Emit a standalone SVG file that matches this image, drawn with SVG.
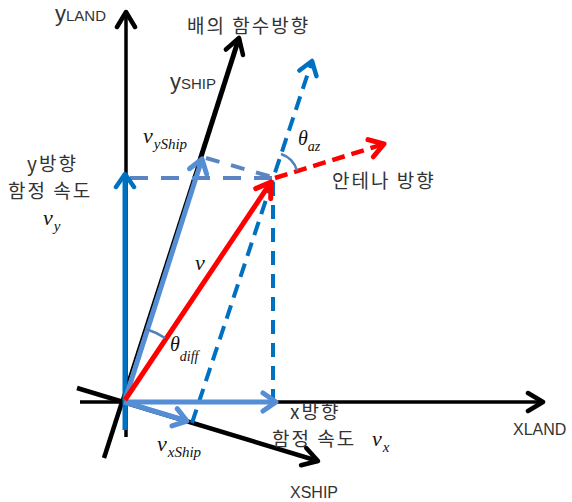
<svg xmlns="http://www.w3.org/2000/svg" width="572" height="502" viewBox="0 0 572 502">
<style>
.lbl{font-family:"Noto Sans CJK KR","Liberation Sans",sans-serif;font-size:19px;fill:#333;letter-spacing:2px}
.ax{font-family:"Liberation Sans","Noto Sans CJK KR",sans-serif;fill:#333}
.m{font-family:"Liberation Serif","DejaVu Serif",serif;font-style:italic;fill:#111}
.k{stroke:#000;fill:none}
.b{stroke:#0070C0;fill:none}
.lb{stroke:#558ED5;fill:none}
.mb{stroke:#5B84C2;fill:none}
.r{stroke:#FF0000;fill:none}
</style>
<defs>
<marker id="ak" markerUnits="userSpaceOnUse" viewBox="-20 -12 24 24" markerWidth="24" markerHeight="24" refX="0" refY="0" orient="auto"><path d="M-15,-9 L0,0 L-15,9" fill="none" stroke="#000" stroke-width="4.5" stroke-linecap="round" stroke-linejoin="round"/></marker>
<marker id="ab" markerUnits="userSpaceOnUse" viewBox="-20 -12 24 24" markerWidth="24" markerHeight="24" refX="0" refY="0" orient="auto"><path d="M-13,-9 L0,0 L-13,9" fill="none" stroke="#0070C0" stroke-width="4.5" stroke-linecap="round" stroke-linejoin="round"/></marker>
<marker id="alb" markerUnits="userSpaceOnUse" viewBox="-20 -12 24 24" markerWidth="24" markerHeight="24" refX="0" refY="0" orient="auto"><path d="M-13,-9 L0,0 L-13,9" fill="none" stroke="#558ED5" stroke-width="5" stroke-linecap="round" stroke-linejoin="round"/></marker>
<marker id="ar" markerUnits="userSpaceOnUse" viewBox="-20 -12 24 24" markerWidth="24" markerHeight="24" refX="0" refY="0" orient="auto"><path d="M-14,-9 L0,0 L-14,9" fill="none" stroke="#FF0000" stroke-width="5" stroke-linecap="round" stroke-linejoin="round"/></marker>
</defs>
<rect width="572" height="502" fill="#fff"/>
<g id="connectors">
<line class="k" x1="126" y1="437" x2="126" y2="12" stroke-width="3.5" marker-end="url(#ak)"/>
<line class="k" x1="80" y1="402" x2="543" y2="402" stroke-width="3.5" marker-end="url(#ak)"/>
<line class="k" x1="77" y1="388" x2="318" y2="461" stroke-width="4.5" marker-end="url(#ak)"/>
<line class="k" x1="121" y1="402" x2="199" y2="160" stroke-width="2"/>
<line class="k" x1="104" y1="458" x2="122" y2="402" stroke-width="4.5"/>
<line class="k" x1="199" y1="163" x2="239" y2="38" stroke-width="5" marker-end="url(#ak)"/>
<line class="mb" x1="130" y1="178" x2="272" y2="178" stroke-width="4" stroke-dasharray="18 13"/>
<line class="mb" x1="206" y1="158" x2="272" y2="177" stroke-width="4" stroke-dasharray="14 12"/>
<line class="b" x1="192" y1="423" x2="312" y2="61" stroke-width="4" stroke-dasharray="14 8" marker-end="url(#ab)"/>
<line class="b" x1="273" y1="182" x2="273" y2="402" stroke-width="4" stroke-dasharray="14 9"/>
<line class="r" x1="275" y1="178" x2="384" y2="144" stroke-width="4.5" stroke-dasharray="13 7" marker-end="url(#ar)"/>
<line class="b" x1="125" y1="430" x2="125" y2="174" stroke-width="5" marker-end="url(#ab)"/>
<line class="lb" x1="125" y1="400" x2="202" y2="159" stroke-width="5" marker-end="url(#alb)"/>
<line class="lb" x1="125" y1="402" x2="276" y2="402" stroke-width="5" marker-end="url(#alb)"/>
<line class="lb" x1="124" y1="402" x2="187" y2="421" stroke-width="5" marker-end="url(#alb)"/>
<line class="r" x1="125" y1="400" x2="271" y2="182" stroke-width="5" marker-end="url(#ar)"/>
<path d="M281,154 A25,25 0 0 1 297,170.5" fill="none" stroke="#4F81BD" stroke-width="2.5"/>
<path d="M146,329 A77,77 0 0 1 165,338" fill="none" stroke="#4F81BD" stroke-width="2.5"/>
</g>
<g id="ylandLabel"><text class="ax" x="55" y="21"><tspan font-size="22">y</tspan><tspan font-size="15">LAND</tspan></text></g>
<g id="yshipLabel"><text class="ax" x="170" y="89"><tspan font-size="22">y</tspan><tspan font-size="15">SHIP</tspan></text></g>
<g id="headingLabel"><text class="lbl" x="187" y="33" font-size="20">배의 함수방향</text></g>
<g id="antennaLabel"><text class="lbl" x="332" y="188" font-size="20">안테나 방향</text></g>
<g id="vyLabel">
<text class="lbl" x="27" y="171">y방향</text>
<text class="lbl" x="8" y="198">함정 속도</text>
<text class="m" x="43" y="225" font-size="22">v<tspan font-size="15" dx="1" dy="6">y</tspan></text>
</g>
<g id="vxLabel">
<text class="lbl" x="290" y="419">x방향</text>
<text class="lbl" x="272" y="446">함정 속도</text>
<text class="m" x="372" y="446" font-size="22">v<tspan font-size="15" dx="1" dy="6">x</tspan></text>
</g>
<g id="vyShipLabel"><text class="m" x="143" y="143" font-size="22">v<tspan font-size="15" dx="1" dy="6">yShip</tspan></text></g>
<g id="vxShipLabel"><text class="m" x="157" y="451" font-size="22">v<tspan font-size="15" dx="1" dy="6">xShip</tspan></text></g>
<g id="vLabel"><text class="m" x="195" y="270" font-size="22">v</text></g>
<g id="thetaAz"><text class="m" x="298" y="145" font-size="20">θ<tspan font-size="14" dy="6">az</tspan></text></g>
<g id="thetaDiff"><text class="m" x="170" y="351" font-size="20">θ<tspan font-size="14" dy="10">diff</tspan></text></g>
<g id="xlandLabel"><text class="ax" x="513" y="435" font-size="16">XLAND</text></g>
<g id="xshipLabel"><text class="ax" x="290" y="498" font-size="16">XSHIP</text></g>
</svg>
